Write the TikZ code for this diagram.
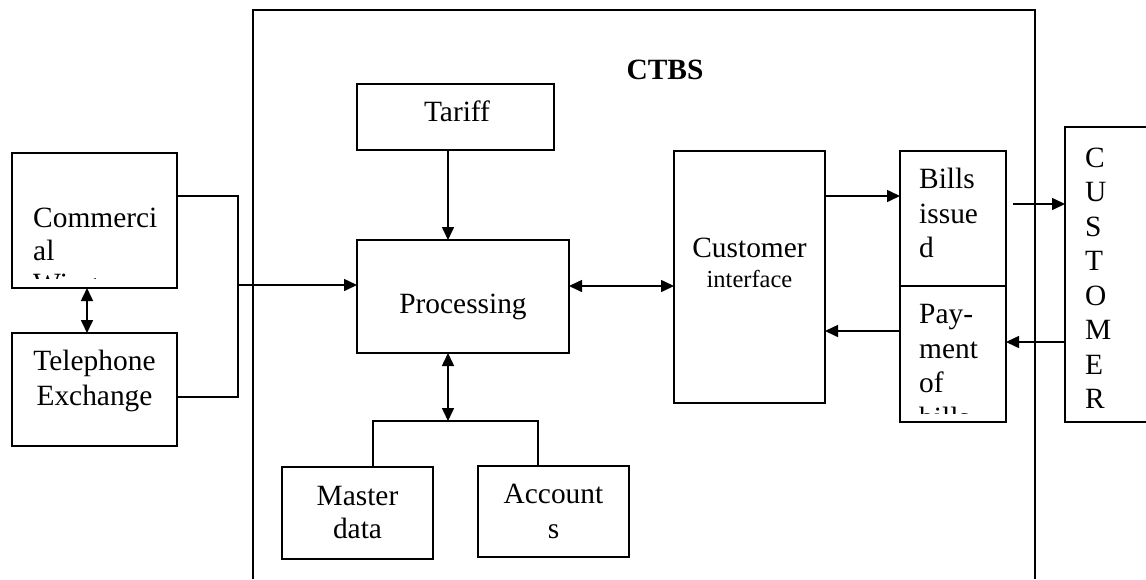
\documentclass[tikz,border=0pt]{standalone}
\usepackage{fontspec}
\setmainfont{Liberation Serif}
\usetikzlibrary{arrows.meta}
\tikzset{
  ln/.style={line width=1.6pt},
  box/.style={draw, ln, anchor=north west, inner sep=0pt, outer sep=0pt},
  arr/.style={ln, -{Triangle[length=13pt,width=12pt]}},
  darr/.style={ln, {Triangle[length=13pt,width=12pt]}-{Triangle[length=13pt,width=12pt]}},
  txt/.style={inner sep=0pt, font=\fontsize{29.4}{33}\selectfont},
  smalltxt/.style={inner sep=0pt, font=\fontsize{24.5}{28}\selectfont},
  boldtxt/.style={inner sep=0pt, font=\fontsize{29.4}{33}\selectfont\bfseries},
}
\begin{document}
\begin{tikzpicture}[x=1pt,y=-1pt]
\fill[white] (0,0) rectangle (1146,579);
\useasboundingbox (0,0) rectangle (1146,579);

% outer CTBS frame (open at bottom)
\node[inner sep=0pt, outer sep=0pt, minimum width=782pt, minimum height=569pt, anchor=north west] (ctbs) at (253,10) {};
\draw[ln] (ctbs.south west) -- (ctbs.north west) -- (ctbs.north east) -- (ctbs.south east);
\node[boldtxt, anchor=base] (ctbstxt) at (665,79) {CTBS};

% boxes
\node[box, minimum width=165pt, minimum height=135pt] (com) at (12,153) {};
\node[box, minimum width=165pt, minimum height=113pt] (tel) at (12,333) {};
\node[box, minimum width=197pt, minimum height=66pt] (tar) at (357,84) {};
\node[box, minimum width=212pt, minimum height=113pt] (proc) at (357,240) {};
\node[box, minimum width=151pt, minimum height=92pt] (mas) at (282,467) {};
\node[box, minimum width=151pt, minimum height=91pt] (acc) at (478,466) {};
\node[box, minimum width=151pt, minimum height=252pt] (ci) at (674,151) {};
\node[box, minimum width=106pt, minimum height=135pt] (bill) at (900,151) {};
\node[box, minimum width=106pt, minimum height=136pt] (pay) at (900,286) {};
\node[inner sep=0pt, outer sep=0pt, minimum width=81pt, minimum height=295pt, anchor=north west] (cust) at (1065,127) {};
\draw[ln] (cust.north east) -- (cust.north west) -- (cust.south west) -- (cust.south east);

% texts
\node[txt, anchor=base west] (comA) at (33,227) {Commerci};
\node[txt, anchor=base west] (comB) at (33,260) {al};
\begin{scope}
  \clip (12,153) rectangle (177,278);
  \node[txt, anchor=base west] (comC) at (33,293) {Wing};
\end{scope}
\node[txt, anchor=base] (telA) at (94.5,370) {Telephone};
\node[txt, anchor=base] (telB) at (94.5,405) {Exchange};
\node[txt, anchor=base] (tarA) at (457,121) {Tariff};
\node[txt, anchor=base] (procA) at (463,313) {Processing};
\node[txt, anchor=base] (masA) at (357.5,505) {Master};
\node[txt, anchor=base] (masB) at (357.5,538) {data};
\node[txt, anchor=base] (accA) at (553.5,503) {Account};
\node[txt, anchor=base] (accB) at (553.5,538) {s};
\node[txt, anchor=base] (ciA) at (749.5,257) {Customer};
\node[smalltxt, anchor=base] (ciB) at (749.5,287) {interface};
\node[txt, anchor=base west] (billA) at (919,188) {Bills};
\node[txt, anchor=base west] (billB) at (919,223) {issue};
\node[txt, anchor=base west] (billC) at (919,257) {d};
\node[txt, anchor=base west] (payA) at (919,323) {Pay-};
\node[txt, anchor=base west] (payB) at (919,358) {ment};
\node[txt, anchor=base west] (payC) at (919,392) {of};
\begin{scope}
  \clip (900,286) rectangle (1006,413);
  \node[txt, anchor=base west] (payD) at (919,427) {bills};
\end{scope}
\foreach \L [count=\i] in {C,U,S,T,O,M,E,R}
  \node[txt, anchor=base west] (cl\i) at (1085,132.5+34.5*\i) {\L};

% connectors
\coordinate (jx) at (238,285);
\coordinate (bar) at (448,421);
\coordinate (bo) at (1013,204);
\draw[arr] ([xshift=-7.5pt]tar.south) -- ([xshift=-15pt]proc.north);
\draw[darr] ([xshift=-7.5pt]com.south) -- ([xshift=-7.5pt]tel.north);
\draw[ln] ([yshift=24.5pt]com.east) -| (jx) |- ([yshift=-7.5pt]tel.east);
\draw[arr] (jx) -- ([yshift=11.5pt]proc.west);
\draw[darr] ([yshift=10.5pt]proc.east) -- ([yshift=-9pt]ci.west);
\draw[darr] ([xshift=-15pt]proc.south) -- (bar);
\draw[ln] ([xshift=15.5pt]mas.north) |- (bar) -| ([xshift=-15.5pt]acc.north);
\draw[arr] ([yshift=81pt]ci.east) -- ([yshift=22.5pt]bill.west);
\draw[arr] ([yshift=23pt]pay.west) -- ([yshift=-54pt]ci.east);
\draw[arr] (bo) -- ([yshift=70.5pt]cust.west);
\draw[arr] ([yshift=-67.5pt]cust.west) -- ([yshift=12pt]pay.east);
\end{tikzpicture}
\end{document}
